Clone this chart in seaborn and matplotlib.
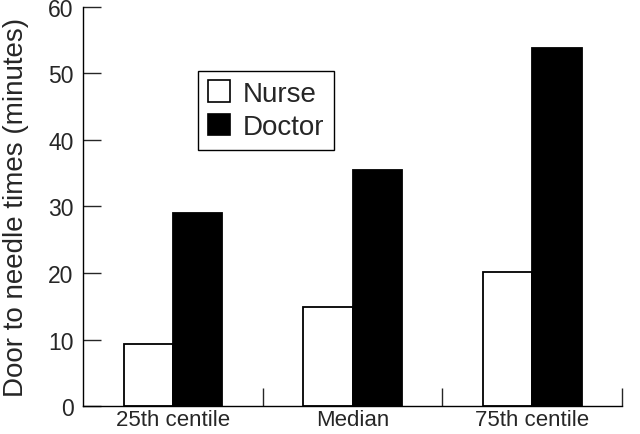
import matplotlib
matplotlib.use('Agg')
import matplotlib.pyplot as plt
import seaborn as sns
import pandas as pd
from matplotlib.patches import Patch

# 数据
categories = ['25th centile', 'Median', '75th centile']
nurse_values = [9.3, 14.9, 20.2]
doctor_values = [29.0, 35.5, 53.8]
groups = ['Nurse', 'Doctor']

df = pd.DataFrame({
    'centile': categories * 2,
    'value': nurse_values + doctor_values,
    'group': ['Nurse'] * 3 + ['Doctor'] * 3,
})

sns.set_style('ticks')
plt.rcParams['font.family'] = ['Liberation Sans', 'DejaVu Sans']

fig = plt.figure(figsize=(6.4, 4.35), dpi=100)
ax = fig.add_axes([0.13, 0.064, 0.842, 0.918])

sns.barplot(data=df, x='centile', y='value', hue='group', hue_order=groups,
            palette={'Nurse': 'white', 'Doctor': 'black'}, width=0.55,
            edgecolor='black', linewidth=1.3, ax=ax, legend=False)

ax.set_xlim(-0.5, 2.5)
ax.set_ylim(0, 60)
ax.set_yticks(range(0, 61, 10))
ax.set_xticks([0.5, 1.5, 2.5], minor=True)
ax.tick_params(axis='x', which='major', length=0, labelsize=16, pad=2)
ax.tick_params(axis='x', which='minor', direction='in', length=13, width=1)
ax.tick_params(axis='y', direction='in', length=13, width=1, labelsize=16.5, pad=7)
ax.set_xlabel('')
ax.set_ylabel('Door to needle times (minutes)', fontsize=20, labelpad=14)
sns.despine(ax=ax)
for s in ['left', 'bottom']:
    ax.spines[s].set_linewidth(1)
    ax.spines[s].set_color('black')

handles = [Patch(facecolor='white', edgecolor='black', linewidth=1.2),
           Patch(facecolor='black', edgecolor='black', linewidth=1.2)]
leg = ax.legend(handles, groups, loc='upper left', bbox_to_anchor=(0.213, 0.84),
                borderaxespad=0, fontsize=20, handlelength=0.8, handleheight=0.8,
                handletextpad=0.45, labelspacing=0.25, fancybox=False,
                edgecolor='black', framealpha=1, borderpad=0.35)
leg.get_frame().set_linewidth(1)

fig.savefig('out.png', dpi=100)
